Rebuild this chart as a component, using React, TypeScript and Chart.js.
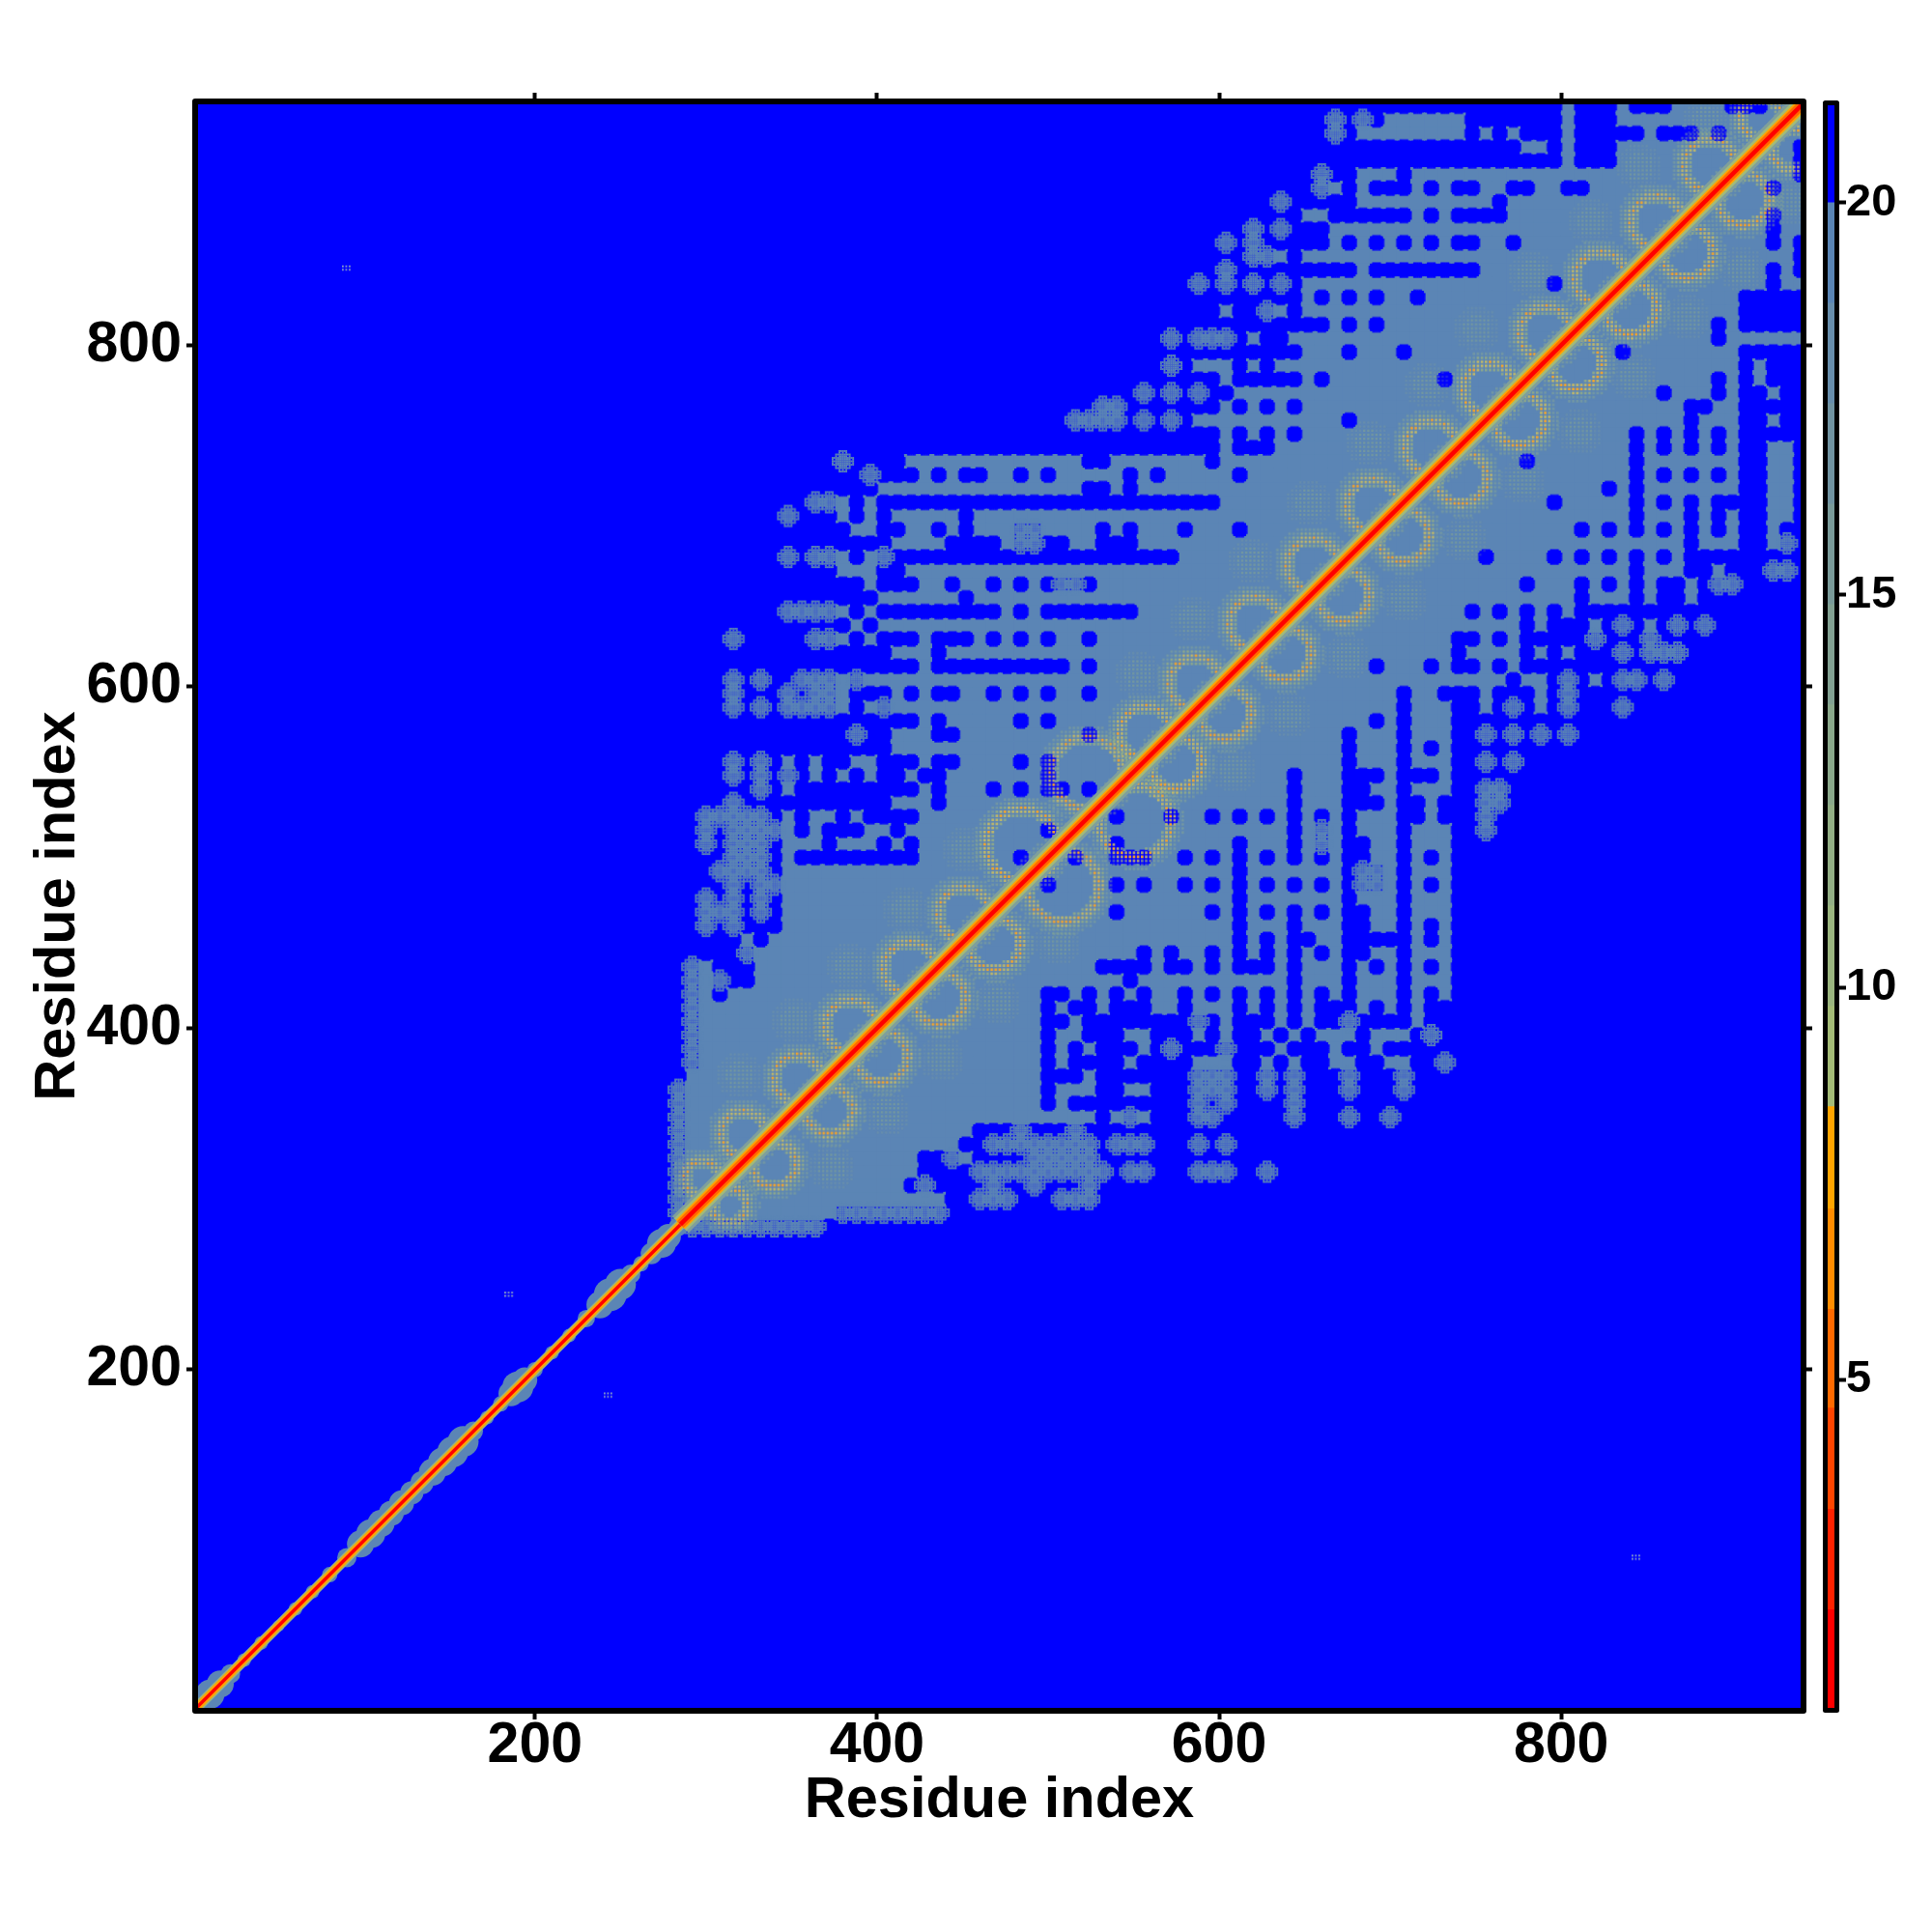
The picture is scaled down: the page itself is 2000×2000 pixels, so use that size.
import React, { useEffect, useRef } from "react";
import { Chart, registerables } from "chart.js";

Chart.register(...registerables);

const FONT = '"Liberation Sans", Arial, sans-serif';
const BLUE = "#0000ff";
const STEEL = "#5b85b5";

const axisTicks = [200, 400, 600, 800];
const colorTicks = [5, 10, 15, 20];
const axisTitle = "Residue index";

// colour-key bins: lower bound / upper bound / colour
const binEdges = [0.82, 2.07, 3.35, 4.64, 5.9, 7.18, 8.48, 9.76, 11.04, 12.32, 13.6, 14.88, 16.16, 17.44, 18.72, 20, 21.24];
const binColors = ["#ff0000", "#ff2200", "#ff4500", "#ff6a00", "#ff8c00", "#ffa500", "#a3bb77", "#9ab57f", "#92ae85", "#8aa88b", "#82a192", "#799a99", "#7093a1", "#678dab", "#5a85b5", "#0000ff"];

// contact map, lower-right half. Row i covers residue 280+8i; tokens are column runs (residue 280+8c):
// plain = no contact, m = sparse contact, everything else from the diagonal on = contact.
const contactRows = [
  "11-82 m1-10",
  "12-82 m12-19",
  "20-82 m22-24 m28-30",
  "17-20 m18 21-82 m23 m26 m30",
  "18-20 21-82 m22-31 m33-34 m38-40 m43",
  "18-19 22-82 m20 m26-30",
  "21-82 m23-30 m32-34 m38 m40",
  "22-82 m25 m29",
  "31 35-37 40-44 46-48 50-51 53-82 m33 m38 m39 m45 m49 m52",
  "27 29-30 31-82 m38 m40 m45",
  "27 31-32 35-42 44-48 50-52 54-82 m38-40 m43 m45 m49 m53",
  "27-29 31-82 m38-40 m43 m45 m49 m53",
  "27 29-30 31-32 34-37 41-42 44 46-47 50-51 54-55 57-82 m56",
  "27 29 31-33 35-39 41-43 45-47 49-50 52-82 m36 m40",
  "27 30 31-32 35-37 39 41-42 44 46 50 54 56-82 m55",
  "27-28 30-39 41-43 45 47-53 55-82 m38 m49",
  "27 29-30 32-34 37 41 43 45 47-49 51 53 55-82",
  "27-28 30 32 34 37 39 41 43 45 47 49 53 55 57-82",
  "33 45 49 53 57-82",
  "31-34 36-37 39 41-43 45 49 51 53 55 57-82",
  "34 36 39 41 43 45 47 49-50 53 57-82",
  "41 43 45-46 49-50 51-52 53 55 57-82",
  "41 45 49-50 53 55 57-82",
  "32 39 41 43 45 47 49-50 53 57-82",
  "41 49 53 57-82",
  "27 32 34 37 39 41 43 45 47 49 m50-51 53 55 57-82",
  "41 49 m50-51 53 57-82",
  "29 32-34 37 39 41 43 45 47 49-50 53 55 57-82",
  "32 41 45 49-50 53 57-82 m47",
  "45 49 53 57-58 60-82 m47 m59",
  "32 36 39 41 43 45 47 49 53-54 56-82 m59",
  "45 49-51 53-54 56-82 m59-60",
  "45 49-50 53 57-82 m59-60",
  "45 49-51 53-54 55 57-82",
  "49 53 57-58 60 62-82 m59 m61",
  "49 53 55 57-82",
  "49 53 57-58 60 62 64 66-82 m59 m61 m63 m65",
  "51 53 57-82",
  "53 57-58 60 61 62 64 66-68 70-82 m65 m69 m61",
  "53 56-58 60-62 64 66-82 m65",
  "61 64 66 68-82 m65 m69-70 m72",
  "51 55 57-58 60 62-82",
  "57 62 64 66-68 70 74-82 m69 m71-73",
  "57-58 60 62-66 68-70 72-82 m67 m71",
  "62 64-66 68 70 72 74 76-82 m69 m73 m75",
  "58 60 62 64 66-82",
  "66 70 72-73 75-82",
  "62 66 68 70 72-73 75-82 m76-77",
  "70 74-75 77-82 m80-81",
  "59 64 66 68 70 72 74-82",
  "74 78-79 82 m81",
  "66 68 70 72 74 76 78-79 81-82",
  "70 74 76 78-79 82",
  "64 70 72 74 76-77 78-79 82",
  "68 70 78-79 82",
  "70 72 74 76 78-79 82",
  "62 70 78-79 82",
  "70 72 74 76 78-79 82",
  "70 72 74 76 78-82",
  "74 78-79 81-82",
  "74-75 78-82",
  "72 76 78-79 81-82",
  "76 78 80-82",
  "78 80-82",
  "69 78-82",
  "76",
  "76 78-82",
  "78-82",
  "78-82",
  "80",
  "80 82",
  "82",
  "80 82",
  "80",
  "80",
  "",
  "80",
  "82",
  "82",
  "82",
  "",
  "",
  "",
];

// repeat loops either side of the diagonal: centre along the diagonal, offset from it, radius (residues)
const loopCentres = [305, 330, 362, 393, 427, 459, 496, 536, 565, 594, 629, 663, 698, 732, 766, 799, 831, 864, 896, 925];
const loopOffsets = [8, 9, 9, 9, 9, 9, 12, 14, 9, 9, 9, 9, 9, 9, 9, 9, 9, 9, 10, 9];
const loopRadii = [10, 13, 14, 15, 15, 15, 21, 21, 15, 15, 15, 15, 15, 15, 15, 15, 15, 15, 15, 12];

// weak patches between neighbouring loops
const patchCentres = [346, 378, 410, 443, 478, 580, 612, 646, 680, 715, 749, 780, 812, 845, 875, 908];
const patchOffset = [27, 27, 27, 27, 27, 28, 28, 28, 28, 28, 28, 30, 30, 28, 30, 24];

// narrow stretch of the diagonal, below residue 280: residue and half-width of the contact band
const bandResidues = [4, 10, 16, 22, 30, 40, 50, 60, 70, 80, 90, 98, 104, 110, 116, 122, 128, 134, 140, 146, 152, 158, 164, 172, 180, 186, 190, 194, 200, 210, 220, 230, 238, 244, 250, 256, 262, 268, 274, 278, 284];
const bandHalfWidths = [9, 15, 14, 10, 7, 7, 6, 7, 7, 8, 10, 14, 15, 14, 13, 13, 12, 12, 14, 15, 16, 16, 10, 7, 8, 13, 16, 13, 8, 7, 7, 9, 14, 17, 16, 10, 8, 11, 15, 13, 10];

// isolated contacts
const strayX = [90, 185, 243, 844];
const strayY = [845, 244, 185, 90];

const diagLow = [1, 285];
const diagHigh = [285, 941];

function parseRow(i: number, text: string) {
  const cells: Record<number, string> = {};
  for (let c = i; c <= 82; c++) cells[c] = "#";
  text.split(" ").filter(Boolean).forEach((tok) => {
    const m = tok.startsWith("m");
    const [a, b] = tok.replace("m", "").split("-").map(Number);
    for (let c = a; c <= (b ?? a); c++) if (c >= i) cells[c] = m ? "m" : ".";
  });
  return cells;
}

function sprite(size: number, draw: (g: CanvasRenderingContext2D) => void) {
  const c = document.createElement("canvas");
  c.width = size;
  c.height = size;
  draw(c.getContext("2d")!);
  return c;
}

// rough-edged blob of no contact, on a residue-sized pixel grid
function holeSprite() {
  return sprite(25, (g) => {
    g.fillStyle = BLUE;
    const px = 1.77;
    for (let a = -6; a <= 6; a++) for (let b = -6; b <= 6; b++) {
      if (Math.hypot(a, b) < 5) g.fillRect(12.5 + a * px - px / 2, 12.5 + b * px - px / 2, px + 0.2, px + 0.2);
    }
  });
}

function sparseSprite() {
  return sprite(25, (g) => {
    g.fillStyle = STEEL;
    const px = 1.77;
    for (let a = -6; a <= 6; a++) for (let b = -6; b <= 6; b++) {
      const d = Math.hypot(a, b);
      if (d < 3.2 || (d < 6.4 && (a % 2 === 0 || b % 2 === 0))) g.fillRect(12.5 + a * px - px / 2, 12.5 + b * px - px / 2, px + 0.1, px + 0.1);
    }
  });
}

function straySprite() {
  return sprite(10, (g) => {
    g.fillStyle = "#8aa0c8";
    for (let a = 0; a < 10; a += 3.5) for (let b = 0; b < 6; b += 3.5) g.fillRect(a, b + 2, 1.8, 1.8);
  });
}

function patchSprite() {
  return sprite(52, (g) => {
    for (let a = 0; a < 52; a += 4.2) for (let b = 0; b < 52; b += 4.2) {
      const d = Math.hypot(a - 26, b - 26);
      if (d > 24) continue;
      g.fillStyle = d < 15 ? "rgba(150,180,130,0.38)" : "rgba(140,170,145,0.22)";
      g.fillRect(a, b, 2.4, 2.4);
    }
  });
}

function loopSprite(rRes: number) {
  const R = rRes * 1.77;
  const size = Math.ceil(2 * (R + 18));
  const mid = size / 2;
  return sprite(size, (g) => {
    let n = 0;
    for (let a = 0; a < size; a += 4.2) for (let b = 0; b < size; b += 4.2) {
      const dist = Math.hypot(a - mid, b - mid);
      const d = Math.abs(dist - R);
      if (d > 14 || dist < R - 7) continue;
      n++;
      if (d < 1.8 && n % 2 === 0) g.fillStyle = "#f2a52c";
      else if (d < 4.5) g.fillStyle = "rgba(205,190,95,0.85)";
      else if (d < 8) g.fillStyle = "rgba(165,185,120,0.65)";
      else g.fillStyle = "rgba(140,170,145,0.45)";
      g.fillRect(a, b, 2.7, 2.7);
    }
  });
}

const frame = (w: number) => ({
  id: "frame",
  beforeDatasetsDraw(chart: any) {
    const { left, top, width, height } = chart.chartArea;
    chart.ctx.save();
    chart.ctx.fillStyle = BLUE;
    chart.ctx.fillRect(left, top, width, height);
    chart.ctx.restore();
  },
  afterDraw(chart: any) {
    const { left, top, width, height } = chart.chartArea;
    const g = chart.ctx;
    g.save();
    g.strokeStyle = "#000";
    g.lineWidth = w;
    g.lineJoin = "round";
    g.strokeRect(left - w / 2, top - w / 2, width + w, height + w);
    g.restore();
  },
});

export default function App() {
  const mainRef = useRef<HTMLCanvasElement>(null);
  const keyRef = useRef<HTMLCanvasElement>(null);

  useEffect(() => {
    const full: any[] = [];
    const sparse: any[] = [];
    const holes: any[] = [];
    contactRows.forEach((text, i) => {
      const cells = parseRow(i, text);
      Object.keys(cells).forEach((k) => {
        const c = Number(k);
        const target = cells[c] === "#" ? full : cells[c] === "m" ? sparse : holes;
        const x = 284 + 8 * c;
        const y = 284 + 8 * i;
        target.push({ x, y });
        if (c !== i) target.push({ x: y, y: x });
      });
    });
    const strays = strayX.map((x, i) => ({ x, y: strayY[i] }));

    const loops: any[] = [];
    loopCentres.forEach((m, i) => {
      const d = loopOffsets[i];
      loops.push({ x: m - d, y: m + d, r: loopRadii[i] });
      loops.push({ x: m + d, y: m - d, r: loopRadii[i] });
    });
    const patches: any[] = [];
    patchCentres.forEach((m, i) => {
      patches.push({ x: m - patchOffset[i], y: m + patchOffset[i] });
      patches.push({ x: m + patchOffset[i], y: m - patchOffset[i] });
    });

    const loopSprites: Record<number, HTMLCanvasElement> = {};
    loopRadii.forEach((r) => {
      if (!loopSprites[r]) loopSprites[r] = loopSprite(r);
    });

    const pts = (style: any, data: any[], radius: number | number[], color = STEEL) => ({
      type: "scatter",
      data,
      pointStyle: style,
      pointRadius: radius,
      pointBackgroundColor: color,
      pointBorderWidth: 0,
      pointHoverRadius: radius,
    });
    const line = (vals: number[], color: string, width: number) => ({
      type: "scatter",
      data: vals.map((v) => ({ x: v, y: v })),
      showLine: true,
      pointRadius: 0,
      borderColor: color,
      borderWidth: width,
      borderCapStyle: "butt",
    });

    const backToFront: any[] = [
      pts("rect", full, 10.6),
      pts(holeSprite(), holes, 8),
      pts(sparseSprite(), sparse, 8),
      pts(straySprite(), strays, 8),
      pts(patchSprite(), patches, 8),
      pts("circle", bandResidues.map((v) => ({ x: v, y: v })), bandHalfWidths),
      pts((c: any) => loopSprites[c.raw?.r] ?? "circle", loops, 8),
      line(diagLow, "#9ab57f", 11),
      line(diagLow, "#ffa500", 8),
      line(diagLow, "#ff0000", 3.5),
      line(diagHigh, "#7f9f9c", 24),
      line(diagHigh, "#a3bb77", 18),
      line(diagHigh, "#ffa500", 13),
      line(diagHigh, "#ff6a00", 9.5),
      line(diagHigh, "#ff0000", 4.5),
    ];
    backToFront.forEach((d, i) => (d.order = backToFront.length - i));

    const setTicks = (vals: number[]) => (axis: any) => {
      axis.ticks = vals.map((value) => ({ value }));
    };
    const lockW = (w: number) => (axis: any) => {
      axis.width = w;
    };
    const lockH = (h: number) => (axis: any) => {
      axis.height = h;
    };
    const tickGrid = {
      drawOnChartArea: false,
      drawTicks: true,
      tickLength: 12,
      tickWidth: 4,
      tickColor: "#000",
    };
    const noLabels = { display: false };
    const bold = (size: number) => ({ family: FONT, size, weight: "bold" as const });

    const main = new Chart(mainRef.current!, {
      type: "scatter",
      data: { datasets: backToFront },
      options: {
        animation: false,
        responsive: false,
        devicePixelRatio: 1,
        events: [],
        layout: { padding: 0 },
        plugins: { legend: { display: false }, tooltip: { enabled: false } },
        scales: {
          x: {
            type: "linear",
            position: "bottom",
            min: 3,
            max: 940,
            grid: tickGrid,
            border: { display: false },
            afterBuildTicks: setTicks(axisTicks),
            afterFit: lockH(232),
            ticks: { color: "#000", font: bold(59), padding: -8, maxRotation: 0, autoSkip: false },
            title: { display: true, text: axisTitle, color: "#000", font: bold(59.5), padding: { top: 0, bottom: 100 } },
          },
          y: {
            type: "linear",
            position: "left",
            min: 2,
            max: 941,
            grid: tickGrid,
            border: { display: false },
            afterBuildTicks: setTicks(axisTicks),
            afterFit: lockW(205),
            ticks: { color: "#000", font: bold(59), padding: 5, autoSkip: false },
            title: { display: true, text: axisTitle, color: "#000", font: bold(59.5), padding: { top: 25, bottom: 0 } },
          },
          xTop: {
            type: "linear",
            position: "top",
            min: 3,
            max: 940,
            grid: tickGrid,
            border: { display: false },
            afterBuildTicks: setTicks(axisTicks),
            afterFit: lockH(108),
            ticks: noLabels,
          },
          yRight: {
            type: "linear",
            position: "right",
            min: 2,
            max: 941,
            grid: tickGrid,
            border: { display: false },
            afterBuildTicks: setTicks(axisTicks),
            afterFit: lockW(136),
            ticks: noLabels,
          },
        },
      },
      plugins: [frame(6)],
    } as any);

    const key = new Chart(keyRef.current!, {
      type: "bar",
      data: {
        labels: ["key"],
        datasets: binColors.map((color, i) => ({
          data: [[binEdges[i], binEdges[i + 1]]],
          backgroundColor: color,
          borderWidth: 0,
          grouped: false,
          categoryPercentage: 1,
          barPercentage: 1,
        })),
      },
      options: {
        animation: false,
        responsive: false,
        devicePixelRatio: 1,
        events: [],
        layout: { padding: { left: 1892, top: 109, bottom: 232, right: 0 } },
        plugins: { legend: { display: false }, tooltip: { enabled: false } },
        scales: {
          x: { display: false },
          y: {
            type: "linear",
            position: "right",
            min: 0.82,
            max: 21.24,
            grid: { drawOnChartArea: false, tickLength: 12, tickWidth: 4, tickColor: "#000" },
            border: { display: false },
            afterBuildTicks: setTicks(colorTicks),
            afterFit: lockW(101),
            ticks: { color: "#000", font: bold(47), padding: 0, autoSkip: false },
          },
        },
      },
      plugins: [frame(5)],
    } as any);

    return () => {
      main.destroy();
      key.destroy();
    };
  }, []);

  const abs: React.CSSProperties = { position: "absolute", left: 0, top: 0, width: 2000, height: 2000 };
  return (
    <div style={{ position: "absolute", left: 0, top: 0, width: 2000, height: 2000, background: "#fff" }}>
      <canvas ref={mainRef} width={2000} height={2000} style={abs} />
      <canvas ref={keyRef} width={2000} height={2000} style={abs} />
    </div>
  );
}
